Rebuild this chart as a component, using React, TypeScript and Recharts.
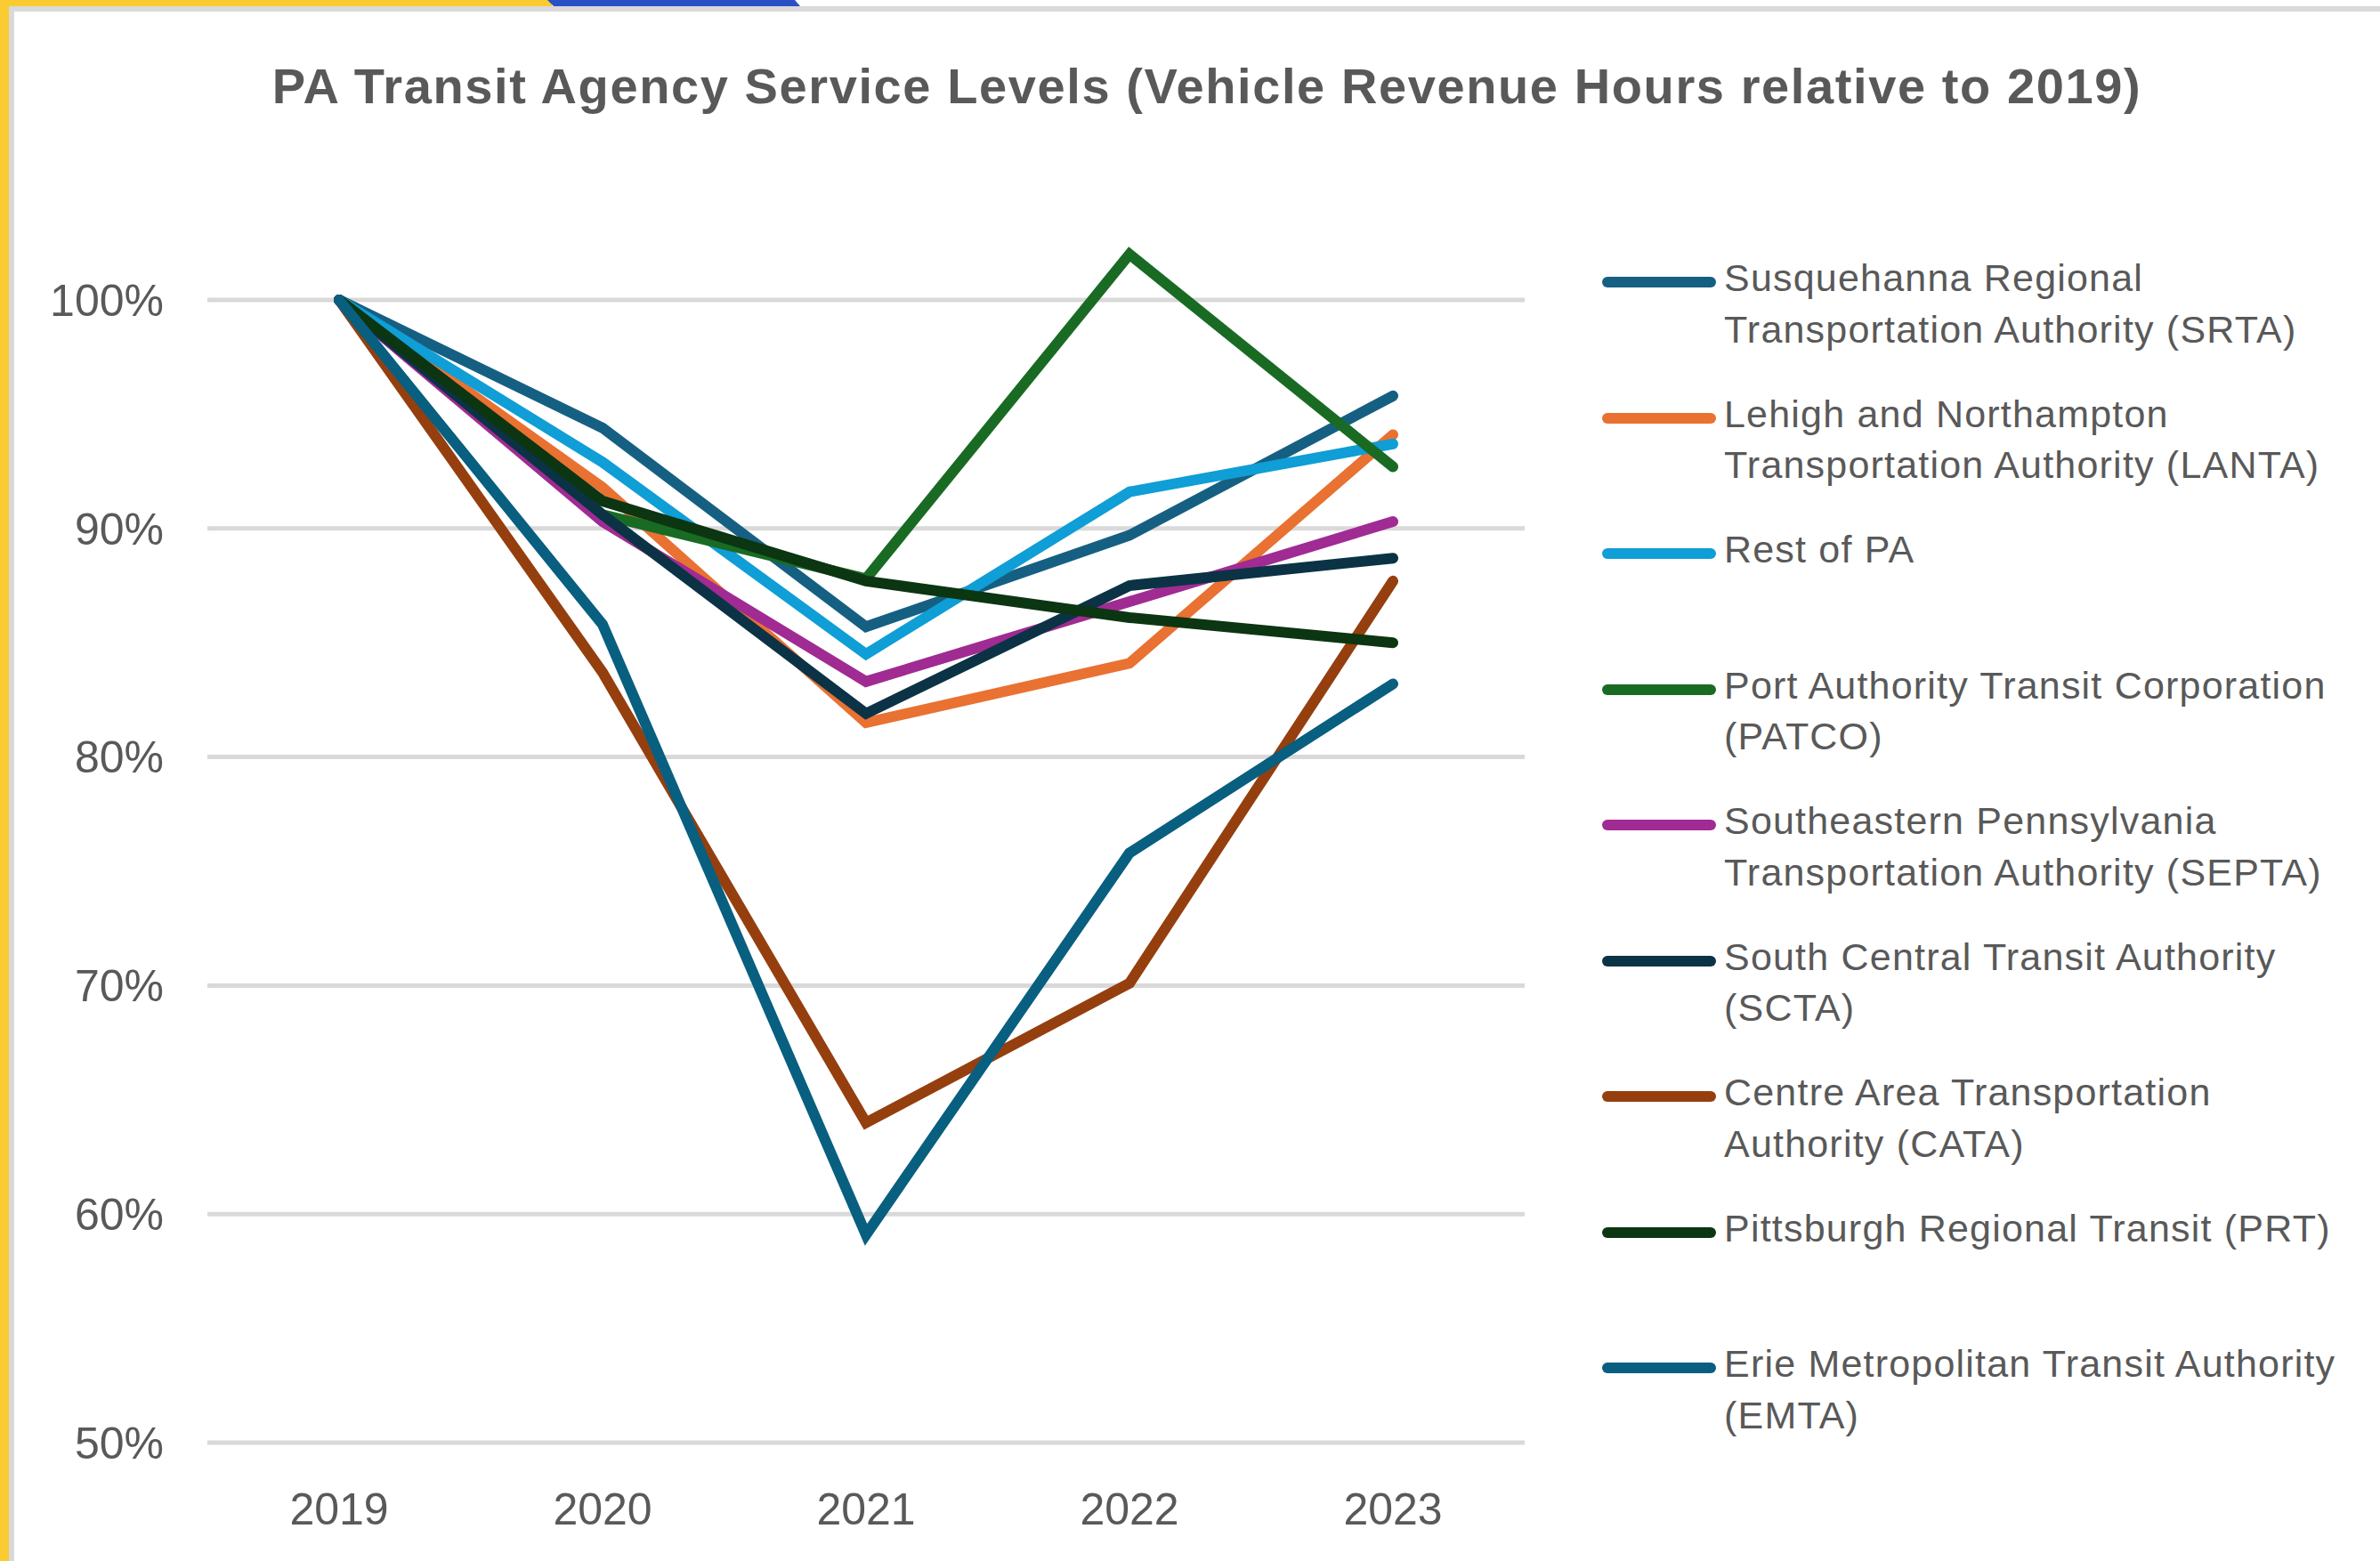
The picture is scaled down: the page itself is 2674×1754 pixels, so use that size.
import React from "react";
import { LineChart, Line, XAxis, YAxis, CartesianGrid } from "recharts";

const years = ["2019", "2020", "2021", "2022", "2023"];
const yTicks = [50, 60, 70, 80, 90, 100];

// values in % of 2019 vehicle revenue hours
const srta = [100, 94.4, 85.7, 89.7, 95.8];
const lanta = [100, 91.8, 81.5, 84.1, 94.1];
const restOfPa = [100, 92.9, 84.5, 91.6, 93.7];
const patco = [100, 90.6, 87.8, 102.0, 92.7];
const septa = [100, 90.3, 83.3, 86.8, 90.3];
const scta = [100, 90.6, 81.9, 87.5, 88.7];
const cata = [100, 83.7, 64.0, 70.1, 87.7];
const prt = [100, 91.2, 87.7, 86.1, 85.0];
const emta = [100, 85.8, 59.1, 75.8, 83.2];

const series = [
  { key: "srta", values: srta, color: "#156082", label: ["Susquehanna Regional", "Transportation Authority (SRTA)"] },
  { key: "lanta", values: lanta, color: "#E97132", label: ["Lehigh and Northampton", "Transportation Authority (LANTA)"] },
  { key: "rest", values: restOfPa, color: "#0F9ED5", label: ["Rest of PA"] },
  { key: "patco", values: patco, color: "#196B24", label: ["Port Authority Transit Corporation", "(PATCO)"] },
  { key: "septa", values: septa, color: "#A02B93", label: ["Southeastern Pennsylvania", "Transportation Authority (SEPTA)"] },
  { key: "scta", values: scta, color: "#0B3345", label: ["South Central Transit Authority", "(SCTA)"] },
  { key: "cata", values: cata, color: "#953F0F", label: ["Centre Area Transportation", "Authority (CATA)"] },
  { key: "prt", values: prt, color: "#0C3512", label: ["Pittsburgh Regional Transit (PRT)"] },
  { key: "emta", values: emta, color: "#085F80", label: ["Erie Metropolitan Transit Authority", "(EMTA)"] },
];

const data = years.map((year, i) => {
  const row: Record<string, string | number> = { year };
  series.forEach((s) => {
    row[s.key] = s.values[i];
  });
  return row;
});

const textColor = "#595959";
const font = '"Liberation Sans", Arial, sans-serif';

const legendTop = 317;
const legendStep = 152.5;

const App = () => {
  return (
    <div
      style={{
        position: "absolute",
        left: 0,
        top: 0,
        width: 2674,
        height: 1754,
        background: "#fff",
        overflow: "hidden",
        fontFamily: font,
      }}
    >
      {/* frame */}
      <svg width={2674} height={1754} style={{ position: "absolute", left: 0, top: 0 }}>
        <rect x={10} y={7} width={2664} height={6} fill="#D9D9D9" />
        <rect x={10} y={7} width={6} height={1747} fill="#D9D9D9" />
        <rect x={0} y={0} width={10} height={1754} fill="#FBCB32" />
        <rect x={0} y={0} width={620} height={7} fill="#FBCB32" />
        <polygon points="615,0 893,0 899,7 622,7" fill="#2B50C6" />
      </svg>

      <div
        style={{
          position: "absolute",
          left: 0,
          width: 2712,
          top: 65,
          textAlign: "center",
          fontSize: 56,
          fontWeight: 700,
          letterSpacing: 1.6,
          color: textColor,
          lineHeight: "64px",
          whiteSpace: "nowrap",
        }}
      >
        PA Transit Agency Service Levels (Vehicle Revenue Hours relative to 2019)
      </div>

      <div style={{ position: "absolute", left: 0, top: 0 }}>
        <LineChart
          width={2674}
          height={1754}
          data={data}
          margin={{ top: 208.6, right: 961, bottom: 0, left: 0 }}
        >
          <CartesianGrid
            vertical={false}
            horizontalValues={yTicks}
            stroke="#D9D9D9"
            strokeWidth={5}
          />
          <XAxis
            dataKey="year"
            height={133}
            padding={{ left: 148, right: 148 }}
            axisLine={false}
            tickLine={false}
            tickSize={0}
            tickMargin={56}
            tick={{ fill: textColor, fontSize: 50, fontFamily: font }}
          />
          <YAxis
            width={233}
            domain={[50, 105]}
            ticks={yTicks}
            tickFormatter={(v) => `${v}%`}
            axisLine={false}
            tickLine={false}
            tickSize={0}
            tickMargin={49}
            tick={{ fill: textColor, fontSize: 50, fontFamily: font }}
          />
          {series.map((s) => (
            <Line
              key={s.key}
              type="linear"
              dataKey={s.key}
              stroke={s.color}
              strokeWidth={12}
              strokeLinecap="round"
              dot={false}
              activeDot={false}
              isAnimationActive={false}
            />
          ))}
        </LineChart>
      </div>

      {/* legend */}
      {series.map((s, i) => {
        const cy = legendTop + i * legendStep;
        return (
          <div key={s.key}>
            <div
              style={{
                position: "absolute",
                left: 1800,
                top: cy - 6,
                width: 128,
                height: 12,
                borderRadius: 6,
                background: s.color,
              }}
            />
            <div
              style={{
                position: "absolute",
                left: 1937,
                top: cy - 33,
                fontSize: 43,
                letterSpacing: 1.2,
                lineHeight: "57.5px",
                color: textColor,
                whiteSpace: "nowrap",
              }}
            >
              {s.label.map((l) => (
                <div key={l}>{l}</div>
              ))}
            </div>
          </div>
        );
      })}
    </div>
  );
};

export default App;
